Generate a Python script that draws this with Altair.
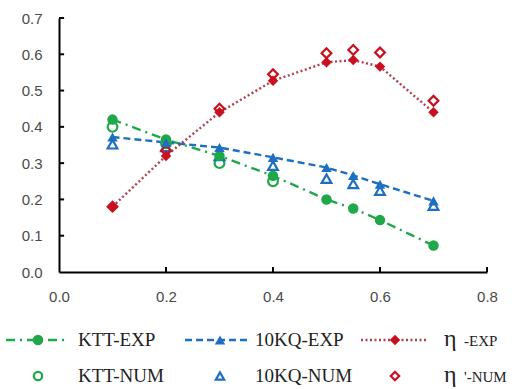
import altair as alt
import pandas as pd

# ---- data -------------------------------------------------------------
j_exp = [0.1, 0.2, 0.3, 0.4, 0.5, 0.55, 0.6, 0.7]
ktt_exp = [0.42, 0.365, 0.32, 0.265, 0.20, 0.175, 0.143, 0.073]
kq_exp = [0.372, 0.357, 0.343, 0.316, 0.288, 0.266, 0.242, 0.196]
eta_exp = [0.18, 0.32, 0.44, 0.527, 0.578, 0.584, 0.566, 0.44]

j_num_ktt = [0.1, 0.2, 0.3, 0.4]
ktt_num = [0.40, 0.355, 0.30, 0.25]
j_num = [0.1, 0.2, 0.3, 0.4, 0.5, 0.55, 0.6, 0.7]
kq_num = [0.352, 0.345, 0.32, 0.293, 0.257, 0.243, 0.224, 0.183]
eta_num = [0.18, 0.335, 0.45, 0.545, 0.603, 0.612, 0.605, 0.472]

x_ticks = [0.0, 0.2, 0.4, 0.6, 0.8]
y_ticks = [0.0, 0.1, 0.2, 0.3, 0.4, 0.5, 0.6, 0.7]

GREEN = "#1fa84a"
BLUE = "#1f6fc1"
RED = "#c8101e"
RED_LINE = "#b0404e"
SERIF = "Liberation Serif"

series = [
    # name, x, y, color, line color, dash, shape, filled
    ("KTT-EXP", j_exp, ktt_exp, GREEN, GREEN, [9, 5, 2, 5], "circle", True),
    ("10KQ-EXP", j_exp, kq_exp, BLUE, BLUE, [7, 4], "triangle-up", True),
    ("η -EXP", j_exp, eta_exp, RED, RED_LINE, [2, 2.5], "diamond", True),
    ("KTT-NUM", j_num_ktt, ktt_num, GREEN, None, None, "circle", False),
    ("10KQ-NUM", j_num, kq_num, BLUE, None, None, "triangle-up", False),
    ("η '-NUM", j_num, eta_num, RED, None, None, "diamond", False),
]

W, H = 428, 254
xs = alt.Scale(domain=[0, 0.8], nice=False)
ys = alt.Scale(domain=[0, 0.7], nice=False)

axis_style = dict(
    format=".1f", ticks=False, grid=False, labelOverlap=False, labelFlush=False,
    domainColor="black", domainWidth=2, labelPadding=17,
    labelFont="Liberation Sans", labelFontSize=15, labelColor="#4a4a4a",
    title=None)
x_enc = alt.X("j:Q", scale=xs, axis=alt.Axis(values=x_ticks, **axis_style))
y_enc = alt.Y("v:Q", scale=ys, axis=alt.Axis(values=y_ticks, **axis_style))

lines, open_pts, filled_pts = [], [], []
for name, xv, yv, col, lcol, dash, shape, filled in series:
    df = pd.DataFrame({"j": xv, "v": yv})
    base = alt.Chart(df)
    if dash is not None:
        lines.append(base.mark_line(color=lcol, strokeDash=dash,
                                    strokeWidth=2.4).encode(x=x_enc, y=y_enc))
    pt = base.mark_point(shape=shape, filled=filled, color=col, opacity=1,
                         size=110 if filled else 95,
                         strokeWidth=0 if filled else 2.2).encode(x=x_enc, y=y_enc)
    (filled_pts if filled else open_pts).append(pt)

# inward tick marks on both axes
xt = pd.DataFrame({"j": x_ticks[1:], "v": [0.0] * 4, "v2": [0.014] * 4})
yt = pd.DataFrame({"j": [0.0] * 7, "j2": [0.0095] * 7, "v": y_ticks[1:]})
xtick_layer = alt.Chart(xt).mark_rule(color="black", strokeWidth=2).encode(
    x=x_enc, y=y_enc, y2="v2:Q")
ytick_layer = alt.Chart(yt).mark_rule(color="black", strokeWidth=2).encode(
    x=x_enc, x2="j2:Q", y=y_enc)

plot = alt.layer(*lines, *open_pts, *filled_pts, xtick_layer, ytick_layer).properties(
    width=W, height=H)

# ---- legend panel (page-pixel coordinates) ---------------------------
LX0, LY0, LH = 61, 310, 74
lxs = alt.Scale(domain=[LX0, LX0 + W], nice=False, zero=False)
lys = alt.Scale(domain=[LY0, LY0 + LH], nice=False, zero=False, reverse=True)
noax = None

row_y = [341, 377]
seg_x = [(8, 70), (187, 252), (363, 428)]
mark_x = [40, 222, 397]
text_x = [80, 257, 466]


def txt(x, y, s, size):
    t = pd.DataFrame({"x": [x], "y": [y], "t": [s]})
    return alt.Chart(t).mark_text(
        align="left", baseline="middle", font=SERIF,
        fontSize=size, color="#222222").encode(
        x=alt.X("x:Q", scale=lxs, axis=noax), y=alt.Y("y:Q", scale=lys, axis=noax),
        text="t:N")


leg_layers = []
for i, (name, xv, yv, col, lcol, dash, shape, filled) in enumerate(series):
    c, r = i % 3, i // 3
    if dash is not None:
        seg = pd.DataFrame({"a": [seg_x[c][0]], "b": [seg_x[c][1]], "y": [row_y[r]]})
        leg_layers.append(alt.Chart(seg).mark_rule(
            color=lcol, strokeDash=dash, strokeWidth=2.4).encode(
            x=alt.X("a:Q", scale=lxs, axis=noax), x2="b:Q",
            y=alt.Y("y:Q", scale=lys, axis=noax)))
    m = pd.DataFrame({"x": [mark_x[c]], "y": [row_y[r]]})
    leg_layers.append(alt.Chart(m).mark_point(
        shape=shape, filled=filled, color=col, opacity=1,
        size=110 if filled else 70, strokeWidth=0 if filled else 2.2).encode(
        x=alt.X("x:Q", scale=lxs, axis=noax), y=alt.Y("y:Q", scale=lys, axis=noax)))
    if c < 2:
        leg_layers.append(txt(text_x[c], row_y[r], name, 19))
    else:
        eta, rest = name.split(" ", 1)
        leg_layers.append(txt(446, row_y[r] - 1, eta, 24))
        leg_layers.append(txt(text_x[c], row_y[r] + 1, rest, 15))

legend = alt.layer(*leg_layers).properties(width=W, height=LH)

chart = alt.vconcat(plot, legend, spacing=5).properties(
    padding={"left": 4, "top": 11, "right": 0, "bottom": 5},
    background="white",
).configure_view(stroke=None).configure_concat(spacing=5)

chart.save("out.html", embed_options={"renderer": "svg", "actions": False})
